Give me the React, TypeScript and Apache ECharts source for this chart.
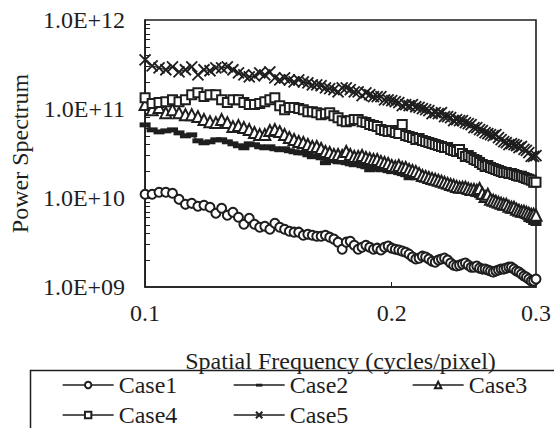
import React, { useEffect, useRef } from "react";
import * as echarts from "echarts";

const frequency = [
  0.100, 0.102, 0.104, 0.106, 0.108, 0.110, 0.112, 0.114, 0.116, 0.118,
  0.120, 0.122, 0.124, 0.126, 0.128, 0.130, 0.132, 0.134, 0.136, 0.138,
  0.140, 0.142, 0.144, 0.146, 0.148, 0.150, 0.152, 0.154, 0.156, 0.158,
  0.160, 0.162, 0.164, 0.166, 0.168, 0.170, 0.172, 0.174, 0.176, 0.178,
  0.180, 0.182, 0.184, 0.186, 0.188, 0.190, 0.192, 0.194, 0.196, 0.198,
  0.200, 0.202, 0.204, 0.206, 0.208, 0.210, 0.212, 0.214, 0.216, 0.218,
  0.220, 0.222, 0.224, 0.226, 0.228, 0.230, 0.232, 0.234, 0.236, 0.238,
  0.240, 0.242, 0.244, 0.246, 0.248, 0.250, 0.252, 0.254, 0.256, 0.258,
  0.260, 0.262, 0.264, 0.266, 0.268, 0.270, 0.272, 0.274, 0.276, 0.278,
  0.280, 0.282, 0.284, 0.286, 0.288, 0.290, 0.292, 0.294, 0.296, 0.298, 0.300,
];

const case1 = [
  11.0e9, 11.0e9, 11.6e9, 11.6e9, 11.3e9, 9.66e9, 8.49e9, 8.71e9, 8.07e9, 8.28e9,
  7.86e9, 6.74e9, 7.66e9, 6.40e9, 6.91e9, 6.08e9, 5.07e9, 5.92e9, 5.07e9, 4.69e9,
  4.82e9, 4.46e9, 5.20e9, 4.69e9, 4.46e9, 4.23e9, 4.13e9, 4.13e9, 3.82e9, 3.92e9,
  3.82e9, 3.72e9, 3.72e9, 3.82e9, 3.63e9, 3.45e9, 3.19e9, 2.66e9, 3.19e9, 3.27e9,
  2.95e9, 2.66e9, 2.80e9, 2.95e9, 2.80e9, 2.66e9, 2.73e9, 2.60e9, 2.80e9, 2.88e9,
  2.73e9, 2.66e9, 2.60e9, 2.53e9, 2.46e9, 2.34e9, 2.17e9, 2.06e9, 2.11e9, 2.22e9,
  2.17e9, 2.06e9, 1.95e9, 1.90e9, 2.01e9, 2.06e9, 2.11e9, 2.01e9, 1.86e9, 1.76e9,
  1.72e9, 1.76e9, 1.81e9, 1.86e9, 1.76e9, 1.67e9, 1.67e9, 1.72e9, 1.63e9, 1.59e9,
  1.59e9, 1.55e9, 1.51e9, 1.47e9, 1.51e9, 1.55e9, 1.59e9, 1.59e9, 1.63e9, 1.67e9,
  1.67e9, 1.59e9, 1.51e9, 1.47e9, 1.40e9, 1.33e9, 1.29e9, 1.23e9, 1.17e9, 1.17e9, 1.23e9,
];

const case2 = [
  6.68e10, 5.87e10, 5.57e10, 5.72e10, 5.87e10, 5.43e10, 5.03e10, 5.16e10, 4.42e10, 4.20e10,
  4.31e10, 4.54e10, 4.54e10, 4.31e10, 4.09e10, 3.89e10, 3.69e10, 4.09e10, 3.99e10, 3.79e10,
  3.69e10, 3.79e10, 3.60e10, 3.51e10, 3.60e10, 3.42e10, 3.33e10, 3.24e10, 3.24e10, 3.08e10,
  2.93e10, 3.00e10, 2.85e10, 2.51e10, 2.71e10, 2.64e10, 2.57e10, 2.57e10, 2.51e10, 2.44e10,
  2.38e10, 2.44e10, 2.32e10, 2.26e10, 2.09e10, 2.26e10, 2.15e10, 2.09e10, 2.26e10, 2.04e10,
  1.99e10, 2.04e10, 1.94e10, 1.89e10, 1.84e10, 1.70e10, 1.75e10, 1.70e10, 1.79e10, 1.66e10,
  1.62e10, 1.62e10, 1.50e10, 1.54e10, 1.50e10, 1.46e10, 1.50e10, 1.39e10, 1.39e10, 1.35e10,
  1.32e10, 1.25e10, 1.25e10, 1.22e10, 1.22e10, 1.16e10, 1.13e10, 1.10e10, 1.07e10, 1.02e10,
  1.02e10, 9.91e9, 1.02e10, 9.66e9, 9.42e9, 8.94e9, 8.72e9, 8.28e9, 8.07e9, 7.86e9,
  7.47e9, 7.28e9, 6.91e9, 6.74e9, 6.74e9, 6.40e9, 6.23e9, 5.77e9, 5.62e9, 5.34e9, 5.20e9,
];

const case3 = [
  1.12e11, 9.83e10, 1.04e11, 9.10e10, 9.83e10, 9.10e10, 8.64e10, 8.64e10, 8.21e10, 7.60e10,
  7.21e10, 7.03e10, 7.60e10, 7.03e10, 6.34e10, 6.51e10, 6.18e10, 5.87e10, 5.43e10, 5.16e10,
  5.16e10, 5.72e10, 5.87e10, 5.57e10, 5.16e10, 4.78e10, 4.54e10, 4.31e10, 4.20e10, 3.99e10,
  3.79e10, 3.79e10, 3.60e10, 3.33e10, 3.24e10, 3.08e10, 3.08e10, 3.00e10, 3.33e10, 3.08e10,
  2.93e10, 2.93e10, 3.00e10, 2.85e10, 2.78e10, 2.71e10, 2.71e10, 2.57e10, 2.51e10, 2.44e10,
  2.32e10, 2.26e10, 2.32e10, 2.20e10, 2.20e10, 2.09e10, 2.04e10, 1.99e10, 1.89e10, 1.79e10,
  1.75e10, 1.70e10, 1.66e10, 1.62e10, 1.58e10, 1.54e10, 1.50e10, 1.46e10, 1.42e10, 1.39e10,
  1.35e10, 1.32e10, 1.32e10, 1.32e10, 1.28e10, 1.25e10, 1.25e10, 1.22e10, 1.28e10, 1.13e10,
  1.04e10, 1.10e10, 9.66e9, 9.42e9, 9.18e9, 8.94e9, 8.72e9, 8.49e9, 8.49e9, 8.07e9,
  7.86e9, 7.86e9, 7.47e9, 7.28e9, 7.09e9, 7.09e9, 6.91e9, 6.74e9, 6.57e9, 6.57e9, 6.40e9,
];

const case4 = [
  1.34e11, 1.15e11, 1.18e11, 1.21e11, 1.27e11, 1.21e11, 1.27e11, 1.45e11, 1.52e11, 1.38e11,
  1.45e11, 1.45e11, 1.27e11, 1.18e11, 1.27e11, 1.27e11, 1.18e11, 1.12e11, 1.12e11, 1.15e11,
  1.21e11, 1.27e11, 1.34e11, 1.09e11, 9.83e10, 1.04e11, 1.04e11, 1.01e11, 9.83e10, 9.34e10,
  9.34e10, 9.10e10, 8.64e10, 8.87e10, 9.10e10, 8.42e10, 8.00e10, 7.40e10, 7.21e10, 7.40e10,
  7.60e10, 7.60e10, 7.21e10, 7.03e10, 6.68e10, 6.51e10, 6.34e10, 5.87e10, 5.72e10, 5.57e10,
  5.72e10, 5.43e10, 5.30e10, 6.68e10, 5.03e10, 4.90e10, 4.78e10, 4.54e10, 4.66e10, 4.42e10,
  4.31e10, 4.20e10, 4.09e10, 3.99e10, 3.89e10, 3.79e10, 3.69e10, 3.69e10, 3.51e10, 3.42e10,
  3.33e10, 3.51e10, 3.16e10, 2.93e10, 3.00e10, 2.85e10, 2.71e10, 2.64e10, 2.51e10, 2.38e10,
  2.26e10, 2.32e10, 2.20e10, 2.15e10, 2.09e10, 2.04e10, 1.99e10, 1.94e10, 1.94e10, 1.89e10,
  1.89e10, 1.84e10, 1.79e10, 1.75e10, 1.75e10, 1.70e10, 1.66e10, 1.62e10, 1.58e10, 1.50e10, 1.50e10,
];

const case5 = [
  3.57e11, 3.06e11, 2.90e11, 2.76e11, 2.98e11, 2.62e11, 2.76e11, 2.98e11, 2.42e11, 2.76e11,
  2.69e11, 2.90e11, 2.90e11, 2.98e11, 2.76e11, 2.55e11, 2.42e11, 2.30e11, 2.36e11, 2.55e11,
  2.42e11, 2.62e11, 2.24e11, 2.13e11, 2.24e11, 2.13e11, 2.02e11, 2.13e11, 2.02e11, 1.97e11,
  1.87e11, 1.87e11, 1.83e11, 1.73e11, 1.69e11, 1.65e11, 1.56e11, 1.73e11, 1.73e11, 1.65e11,
  1.56e11, 1.56e11, 1.41e11, 1.52e11, 1.45e11, 1.38e11, 1.38e11, 1.38e11, 1.27e11, 1.27e11,
  1.24e11, 1.21e11, 1.18e11, 1.09e11, 1.12e11, 1.09e11, 1.12e11, 1.06e11, 1.04e11, 1.01e11,
  9.83e10, 9.58e10, 8.87e10, 9.10e10, 8.87e10, 9.10e10, 8.21e10, 8.21e10, 8.00e10, 7.40e10,
  7.60e10, 7.40e10, 7.40e10, 7.03e10, 6.85e10, 6.68e10, 6.18e10, 6.18e10, 5.87e10, 5.72e10,
  5.43e10, 5.30e10, 5.16e10, 5.03e10, 5.16e10, 4.78e10, 4.54e10, 4.31e10, 4.20e10, 3.99e10,
  4.09e10, 3.99e10, 3.89e10, 3.69e10, 3.79e10, 3.51e10, 3.42e10, 3.24e10, 2.93e10, 2.93e10, 3.00e10,
];

const seriesNames = ["Case1", "Case2", "Case3", "Case4", "Case5"];
const xTickLabels = [0.1, 0.2, 0.3];
const xTickMarks = [0.2];
const yTickLabels = [1e9, 1e10, 1e11, 1e12];
const yTickMarks = [
  2e9, 3e9, 4e9, 5e9, 6e9, 7e9, 8e9, 9e9, 1e10,
  2e10, 3e10, 4e10, 5e10, 6e10, 7e10, 8e10, 9e10, 1e11,
  2e11, 3e11, 4e11, 5e11, 6e11, 7e11, 8e11, 9e11,
];

const FONT = '"Liberation Serif", "Times New Roman", serif';
const INK = "#1e1e1e";

const dashSymbol = "path://M0 0L0 0M0 3H10V7.5H0ZM10 10L10 10";
const crossSymbol = "path://M0 0L10 10M10 0L0 10";

export default function App() {
  const ref = useRef<HTMLDivElement>(null);

  useEffect(() => {
    if (!ref.current) return;
    const chart = echarts.init(ref.current, null, { renderer: "svg" });

    const values = [case1, case2, case3, case4, case5];
    const symbols = ["emptyCircle", dashSymbol, "emptyTriangle", "emptyRect", crossSymbol];
    const sizes: any[] = [9, 11, 11, 9, 11];

    const series = seriesNames.map((name, s) => ({
      name,
      type: "line",
      data: frequency.map((f, i) => [f, values[s][i]]),
      symbol: symbols[s],
      symbolSize: sizes[s],
      showAllSymbol: true,
      lineStyle: { color: INK, width: 1.2 },
      itemStyle: {
        color: INK,
        borderColor: INK,
        borderWidth: s === 1 ? 0 : 1.8,
      },
      emphasis: { disabled: true },
      z: 2 + s,
    }));

    const legendPos = [
      [62, 373],
      [233, 373],
      [412, 373],
      [62, 403],
      [233, 403],
    ];

    const legend = seriesNames.map((name, i) => ({
      data: [name],
      left: legendPos[i][0],
      top: legendPos[i][1],
      padding: 0,
      itemWidth: 51,
      itemHeight: 8,
      itemGap: 0,
      selectedMode: false,
      textStyle: { fontFamily: FONT, fontSize: 24, color: INK, lineHeight: 24 },
      lineStyle: { width: 1.3 },
    }));

    chart.setOption({
      animation: false,
      backgroundColor: "#fff",
      textStyle: { fontFamily: FONT },
      grid: {
        left: 143,
        top: 20,
        right: 13,
        bottom: 141,
        show: true,
        borderColor: INK,
        borderWidth: 1.6,
        backgroundColor: "#fff",
      },
      legend,
      xAxis: {
        type: "log",
        logBase: 10,
        min: 0.1,
        max: 0.3,
        name: "Spatial Frequency (cycles/pixel)",
        nameLocation: "middle",
        nameGap: 62,
        nameTextStyle: { fontFamily: FONT, fontSize: 24, color: INK },
        axisLine: { lineStyle: { color: INK, width: 1.6 } },
        axisTick: {
          inside: true,
          length: 5,
          customValues: xTickMarks,
          lineStyle: { color: INK, width: 1 },
        },
        axisLabel: {
          customValues: xTickLabels,
          margin: 14,
          fontFamily: FONT,
          fontSize: 24,
          color: INK,
          formatter: (v: number) => Number(v).toFixed(1),
        },
        splitLine: { show: false },
        minorTick: { show: false },
      },
      yAxis: {
        type: "log",
        logBase: 10,
        min: 1e9,
        max: 1e12,
        name: "Power Spectrum",
        nameLocation: "middle",
        nameGap: 108,
        nameRotate: 90,
        nameTextStyle: { fontFamily: FONT, fontSize: 24, color: INK },
        axisLine: { lineStyle: { color: INK, width: 1.6 } },
        axisTick: {
          inside: true,
          length: 5,
          customValues: yTickMarks,
          lineStyle: { color: INK, width: 1 },
        },
        axisLabel: {
          customValues: yTickLabels,
          margin: 20,
          fontFamily: FONT,
          fontSize: 24,
          color: INK,
          formatter: (v: number) => {
            const e = Math.round(Math.log10(v));
            return "1.0E+" + String(e).padStart(2, "0");
          },
        },
        splitLine: { show: false },
      },
      graphic: [
        {
          type: "rect",
          left: 28,
          top: 368,
          shape: { x: 0, y: 0, width: 600, height: 120 },
          style: { fill: "none", stroke: INK, lineWidth: 1.5 },
          silent: true,
          z: -1,
        },
      ],
      series,
    });

    return () => chart.dispose();
  }, []);

  return (
    <div
      ref={ref}
      style={{ position: "fixed", left: 0, top: 0, width: 554, height: 428, background: "#fff" }}
    />
  );
}
